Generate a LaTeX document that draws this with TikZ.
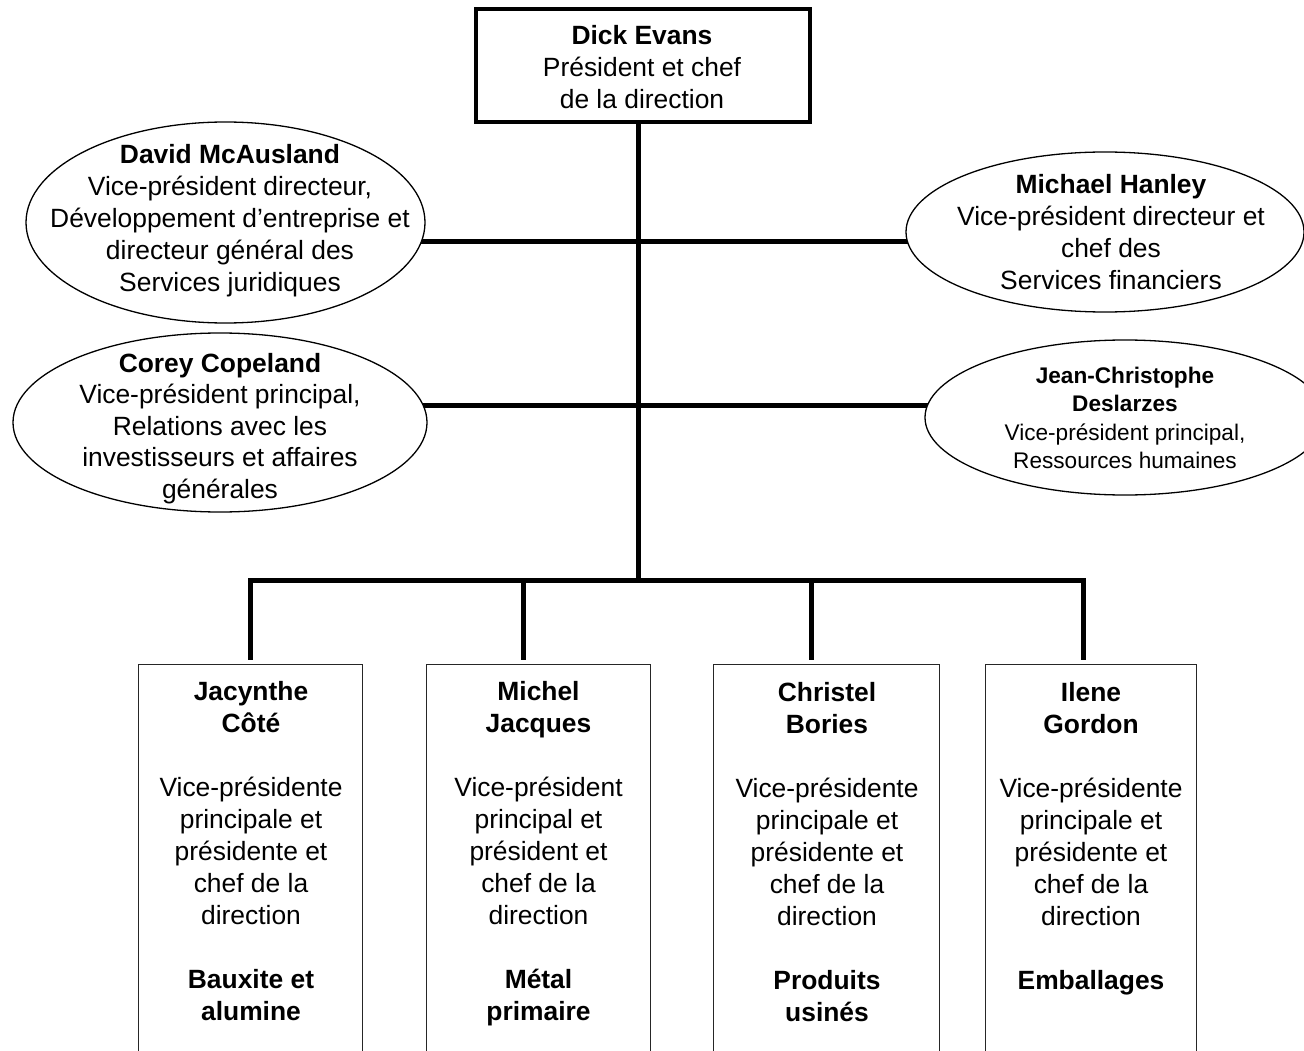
\documentclass[tikz,border=0pt]{standalone}
\usepackage{fontspec}
\setmainfont{Liberation Sans}
\usetikzlibrary{shapes.geometric,backgrounds}
\begin{document}
\begin{tikzpicture}[x=1pt,y=-1pt,
  conn/.style={line width=5pt, black},
  topbox/.style={draw, fill=white, line width=4pt, minimum width=334pt, minimum height=113pt, inner sep=0pt, outer sep=0pt},
  unitbox/.style={draw=black!85, fill=white, line width=1.3pt, anchor=north, minimum height=440pt, inner sep=0pt, outer sep=0pt},
  oval/.style={draw, fill=white, ellipse, line width=1.3pt, inner sep=0pt, outer sep=0pt},
  txt/.style={font=\fontsize{26.4}{32}\selectfont, align=center, inner sep=0pt, anchor=north},
  smalltxt/.style={font=\fontsize{22.6}{28.5}\selectfont, align=center, inner sep=0pt, anchor=north}]
\useasboundingbox (0,0) rectangle (1304,1051);
\clip (0,0) rectangle (1304,1051);

% shapes
\node[topbox] (top) at (643,65.5) {};
\node[oval, minimum width=399pt, minimum height=201pt] (david) at (225.5,222.5) {};
\node[oval, minimum width=398pt, minimum height=160pt] (michael) at (1105,232) {};
\node[oval, minimum width=414pt, minimum height=179pt] (corey) at (220,422.5) {};
\node[oval, minimum width=400pt, minimum height=155pt] (jc) at (1125,417.5) {};
\node[unitbox, minimum width=224pt] (b1) at (250.5,664.6) {};
\node[unitbox, minimum width=224pt] (b2) at (538.5,664.6) {};
\node[unitbox, minimum width=226pt] (b3) at (826.5,664.6) {};
\node[unitbox, minimum width=211pt] (b4) at (1091,664.6) {};

% connectors (behind the white-filled shapes)
\coordinate (hub) at (638,580);
\coordinate (j1) at (638,242);
\coordinate (j2) at (638,405);
\coordinate (d1) at (250,580);
\coordinate (d2) at (523,580);
\coordinate (d3) at (811,580);
\coordinate (d4) at (1083,580);
\begin{scope}[on background layer]
\draw[conn] (hub |- top.south) -- (hub);
\draw[conn] (j1 -| david.center) -- (j1 -| michael.center);
\draw[conn] (j2 -| corey.center) -- (j2 -| jc.center);
\draw[conn] ([yshift=5pt]d1 |- b1.north) -- (d1) -- (d4) -- ([yshift=5pt]d4 |- b4.north);
\draw[conn] (d2) -- ([yshift=5pt]d2 |- b2.north);
\draw[conn] (d3) -- ([yshift=5pt]d3 |- b3.north);
\end{scope}

% texts
\node[txt] (toptxt) at (642,21.6) {\strut\textbf{Dick Evans}\\Président et chef\\de la direction};
\node[txt] (davidtxt) at (230,140.6) {\strut\textbf{David McAusland}\\Vice-président directeur,\\Développement d’entreprise et\\directeur général des\\Services juridiques};
\node[txt] (michaeltxt) at (1111,170.6) {\strut\textbf{Michael Hanley}\\Vice-président directeur et\\chef des\\Services financiers};
\node[txt, font=\fontsize{26.4}{31.5}\selectfont] (coreytxt) at (220,349.95) {\strut\textbf{Corey Copeland}\\Vice-président principal,\\Relations avec les\\investisseurs et affaires\\générales};
\node[smalltxt] (jctxt) at (1125,363.05) {\strut\textbf{Jean-Christophe}\\\textbf{Deslarzes}\\Vice-président principal,\\Ressources humaines};

\node[txt] (b1t) at (251,677.6) {\strut\textbf{Jacynthe}\\\textbf{Côté}\\[32pt]Vice-présidente\\principale et\\présidente et\\chef de la\\direction\\[32pt]\textbf{Bauxite et}\\\textbf{alumine}};
\node[txt] (b2t) at (538.5,677.6) {\strut\textbf{Michel}\\\textbf{Jacques}\\[32pt]Vice-président\\principal et\\président et\\chef de la\\direction\\[32pt]\textbf{Métal}\\\textbf{primaire}};
\node[txt] (b3t) at (827,679) {\strut\textbf{Christel}\\\textbf{Bories}\\[32pt]Vice-présidente\\principale et\\présidente et\\chef de la\\direction\\[32pt]\textbf{Produits}\\\textbf{usinés}};
\node[txt] (b4t) at (1091,679) {\strut\textbf{Ilene}\\\textbf{Gordon}\\[32pt]Vice-présidente\\principale et\\présidente et\\chef de la\\direction\\[32pt]\textbf{Emballages}};
\end{tikzpicture}
\end{document}
